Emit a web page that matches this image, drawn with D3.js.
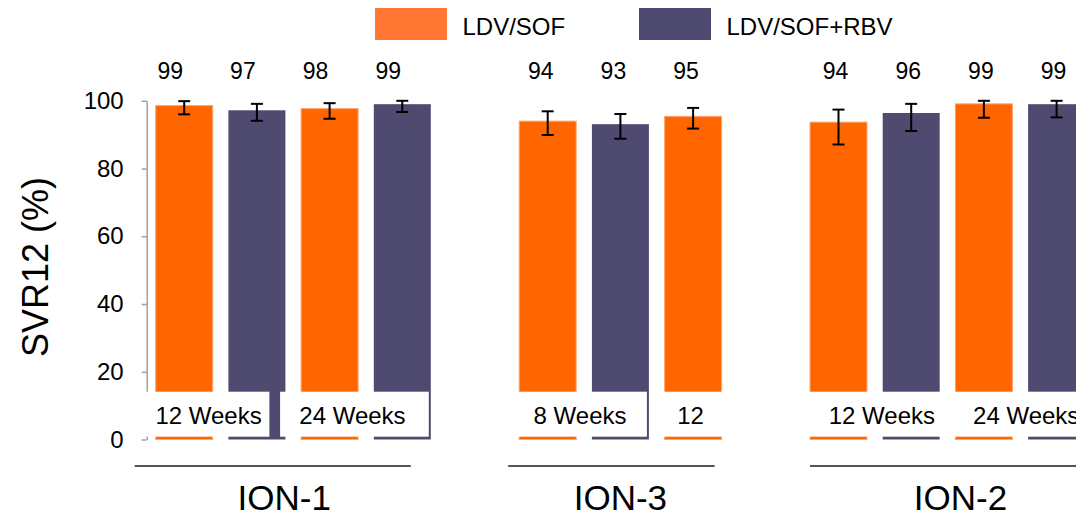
<!DOCTYPE html>
<html>
<head>
<meta charset="utf-8">
<script src="https://cdn.jsdelivr.net/npm/d3@7"></script>
<style>
  body { margin: 0; background: #fff; }
  svg { display: block; font-family: "Liberation Sans", Arial, sans-serif; }
</style>
</head>
<body>
<div id="chart"></div>
<script>
// ---- data ----
const studies = ["ION-1", "ION-3", "ION-2"];
const regimens = ["LDV/SOF", "LDV/SOF+RBV"];
const barStudy = ["ION-1", "ION-1", "ION-1", "ION-1", "ION-3", "ION-3", "ION-3", "ION-2", "ION-2", "ION-2", "ION-2"];
const barRegimen = ["LDV/SOF", "LDV/SOF+RBV", "LDV/SOF", "LDV/SOF+RBV", "LDV/SOF", "LDV/SOF+RBV", "LDV/SOF", "LDV/SOF", "LDV/SOF+RBV", "LDV/SOF", "LDV/SOF+RBV"];
const barWeeks = ["12 Weeks", "12 Weeks", "24 Weeks", "24 Weeks", "8 Weeks", "8 Weeks", "12", "12 Weeks", "12 Weeks", "24 Weeks", "24 Weeks"];
const svr = [98.6, 97.2, 97.7, 99.0, 94.0, 93.1, 95.4, 93.7, 96.4, 99.1, 99.0];
const svrLabel = [99, 97, 98, 99, 94, 93, 95, 94, 96, 99, 99];
const ciLow = [96.0, 94.1, 94.7, 96.7, 89.9, 88.8, 91.8, 87.1, 91.1, 95.0, 95.1];
const ciHigh = [99.9, 99.1, 99.3, 100, 96.9, 96.1, 97.9, 97.4, 99.1, 100, 100];
const yTicks = [0, 20, 40, 60, 80, 100];

// ---- layout / style ----
const svgWidth = 1076;
const svgHeight = 515;
const colors = { "LDV/SOF": "#ff6600", "LDV/SOF+RBV": "#4f4a70" };
const legendColors = { "LDV/SOF": "#ff7733", "LDV/SOF+RBV": "#4f4a70" };

// per-study tweaks (ION-1, ION-3, ION-2)
const valueDx = [-14, -7, -3];
const groupLabelDx = [-9, 0, 13];
const lineInset = [[-21, -20], [-11, -7], [0, 20]];
// per-segment white label boxes
const boxPadL = [12, 21, 7, 15, 6, 16];
const boxTrimR = [16, 2, 2, -11, -16, -12];
const segTextDx = [-12, -13.5, -4, -2.5, 7, 6];

const svg = d3.select('#chart')
  .append('svg')
  .attr('width', svgWidth)
  .attr('height', svgHeight);

// slot domain: bars with one empty slot between studies
const slots = [];
barStudy.forEach((s, i) => {
  if (i > 0 && barStudy[i - 1] !== s) slots.push('gap' + i);
  slots.push('bar' + i);
});

const x = d3.scaleBand()
  .domain(slots)
  .range([155.7, 155.7 + 72.7 * (slots.length - 0.216)])
  .paddingInner(0.216)
  .paddingOuter(0);

const y = d3.scaleLinear()
  .domain([0, 100])
  .range([439.5, 100.8]);

const bw = x.bandwidth();
const bars = svr.map((v, i) => ({
  i, v, study: barStudy[i], reg: barRegimen[i], weeks: barWeeks[i],
  lo: ciLow[i], hi: ciHigh[i], label: svrLabel[i]
}));

// y axis
const yAxis = svg.append('g')
  .attr('transform', 'translate(146.7,0)')
  .call(d3.axisLeft(y).tickValues(yTicks).tickSize(5).tickSizeOuter(0).tickPadding(18));
yAxis.select('.domain').attr('stroke', '#a0a0a0').attr('stroke-width', 1.5);
yAxis.selectAll('.tick line').attr('stroke', '#a0a0a0').attr('stroke-width', 1.5);
yAxis.selectAll('.tick text')
  .attr('font-size', '24px')
  .attr('fill', '#000')
  .attr('font-family', '"Liberation Sans", Arial, sans-serif');

// bars
svg.selectAll('.bar')
  .data(bars)
  .enter()
  .append('rect')
  .attr('class', 'bar')
  .attr('x', d => x('bar' + d.i))
  .attr('y', d => y(d.v))
  .attr('width', bw)
  .attr('height', d => y(0) - y(d.v))
  .attr('fill', d => colors[d.reg])
  .attr('stroke', d => d.reg === 'LDV/SOF' ? '#ffa470' : 'none')
  .attr('stroke-width', 1);

// error bars
const err = svg.selectAll('.err')
  .data(bars)
  .enter()
  .append('g')
  .attr('class', 'err')
  .attr('stroke', '#000')
  .attr('stroke-width', 2);
err.append('line')
  .attr('x1', d => x('bar' + d.i) + bw / 2)
  .attr('x2', d => x('bar' + d.i) + bw / 2)
  .attr('y1', d => y(d.lo))
  .attr('y2', d => y(d.hi));
err.append('line')
  .attr('x1', d => x('bar' + d.i) + bw / 2 - 6)
  .attr('x2', d => x('bar' + d.i) + bw / 2 + 6)
  .attr('y1', d => y(d.hi))
  .attr('y2', d => y(d.hi));
err.append('line')
  .attr('x1', d => x('bar' + d.i) + bw / 2 - 6)
  .attr('x2', d => x('bar' + d.i) + bw / 2 + 6)
  .attr('y1', d => y(d.lo))
  .attr('y2', d => y(d.lo));

// value labels
svg.selectAll('.val')
  .data(bars)
  .enter()
  .append('text')
  .attr('class', 'val')
  .attr('x', d => x('bar' + d.i) + bw / 2 + valueDx[studies.indexOf(d.study)])
  .attr('y', 78.5)
  .attr('text-anchor', 'middle')
  .attr('font-size', '23px')
  .attr('fill', '#000')
  .text(d => d.label);

// duration segments (white boxes over bar bottoms)
const segments = [];
bars.forEach(d => {
  const last = segments[segments.length - 1];
  if (last && last.study === d.study && last.weeks === d.weeks) last.end = d.i;
  else segments.push({ study: d.study, weeks: d.weeks, start: d.i, end: d.i });
});

segments.forEach((s, k) => {
  const x0 = x('bar' + s.start);
  const x1 = x('bar' + s.end) + bw;
  svg.append('rect')
    .attr('x', x0 - boxPadL[k])
    .attr('y', y(0) - 47.8)
    .attr('width', (x1 - boxTrimR[k]) - (x0 - boxPadL[k]))
    .attr('height', 45)
    .attr('fill', '#fff');
  svg.append('text')
    .attr('x', (x0 + x1) / 2 + segTextDx[k])
    .attr('y', y(0) - 16)
    .attr('text-anchor', 'middle')
    .attr('font-size', '24px')
    .attr('fill', '#000')
    .text(s.weeks);
});

// study underline + label
studies.forEach((st, k) => {
  const idx = bars.filter(d => d.study === st).map(d => d.i);
  const x0 = x('bar' + d3.min(idx));
  const x1 = x('bar' + d3.max(idx)) + bw;
  svg.append('line')
    .attr('x1', x0 + lineInset[k][0])
    .attr('x2', x1 + lineInset[k][1])
    .attr('y1', 466)
    .attr('y2', 466)
    .attr('stroke', '#555')
    .attr('stroke-width', 2);
  svg.append('text')
    .attr('x', (x0 + x1) / 2 + groupLabelDx[k])
    .attr('y', 510)
    .attr('text-anchor', 'middle')
    .attr('font-size', '35px')
    .attr('fill', '#000')
    .text(st);
});

// y axis title
svg.append('text')
  .attr('transform', 'translate(35,267) rotate(-90)')
  .attr('text-anchor', 'middle')
  .attr('dominant-baseline', 'central')
  .attr('font-size', '36px')
  .attr('fill', '#000')
  .text('SVR12 (%)');

// legend
const legendX = [375, 639];
regimens.forEach((r, k) => {
  svg.append('rect')
    .attr('x', legendX[k])
    .attr('y', 8)
    .attr('width', 72)
    .attr('height', 32)
    .attr('fill', legendColors[r]);
  svg.append('text')
    .attr('x', legendX[k] + 87.5)
    .attr('y', 35)
    .attr('font-size', '24px')
    .attr('fill', '#000')
    .text(r);
});
</script>
</body>
</html>
